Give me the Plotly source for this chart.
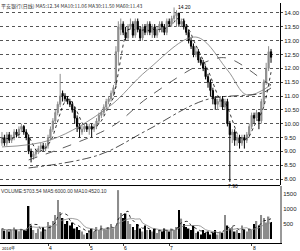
import plotly.graph_objects as go
import pandas as pd

# ---------------- data ----------------
open_ = [9.3,9.5,9.3,9.6,9.4,9.5,9.7,9.6,9.8,9.9,
         9.7,9.5,9.0,8.8,8.9,9.0,9.1,9.2,9.1,9.2,
         9.5,9.8,10.1,10.4,10.7,11.1,11.0,10.9,10.8,10.7,
         10.5,10.2,9.9,9.7,9.8,9.9,9.8,9.9,9.8,9.9,
         10.1,10.3,10.4,10.6,10.8,10.9,11.1,11.4,12.6,13.4,
         13.6,13.3,13.1,13.5,13.6,13.2,13.7,13.4,13.1,13.5,
         13.3,13.6,13.3,13.5,13.2,13.4,13.6,13.5,13.3,13.7,
         13.6,13.8,13.9,14.0,13.6,13.7,13.5,13.3,13.0,12.8,
         12.5,12.6,12.3,12.2,12.0,11.7,11.5,11.2,10.9,10.7,
         10.8,10.9,10.6,10.8,10.0,9.6,9.7,9.4,9.5,9.3,
         9.5,9.4,9.6,9.9,10.3,10.2,10.4,10.1,10.8,11.5,
         12.0,12.6]
close = [9.5,9.3,9.6,9.4,9.5,9.7,9.6,9.8,9.9,9.7,
         9.5,9.0,8.8,8.9,9.0,9.1,9.2,9.1,9.2,9.5,
         9.8,10.1,10.4,10.7,11.0,11.0,10.9,10.8,10.7,10.5,
         10.2,9.9,9.8,9.8,9.9,9.8,9.9,9.8,9.9,10.1,
         10.3,10.4,10.6,10.8,10.9,11.1,11.3,12.6,13.5,13.6,
         13.3,13.1,13.5,13.6,13.2,13.7,13.4,13.1,13.5,13.3,
         13.6,13.3,13.5,13.2,13.4,13.6,13.5,13.3,13.7,13.6,
         13.8,13.9,14.0,13.6,13.7,13.5,13.3,13.0,12.8,12.5,
         12.6,12.3,12.2,12.0,11.7,11.5,11.2,10.9,10.7,10.8,
         10.9,10.6,10.8,10.0,9.6,9.7,9.4,9.5,9.3,9.5,
         9.4,9.6,9.9,10.3,10.2,10.4,10.1,10.8,11.5,12.0,
         12.6,12.4]
high = [9.7,9.6,9.7,9.7,9.6,9.8,9.8,9.9,10.0,9.95,
        9.8,9.6,9.1,9.0,9.1,9.2,9.3,9.3,9.3,9.6,
        9.9,10.2,10.5,10.8,11.8,11.2,11.1,11.0,10.9,10.8,
        10.6,10.3,10.0,9.95,10.0,10.0,10.0,10.0,10.0,10.2,
        10.4,10.5,10.7,10.9,11.0,11.2,11.4,12.8,13.7,13.8,
        13.7,13.5,13.6,13.8,13.7,13.8,13.8,13.5,13.6,13.6,
        13.7,13.7,13.6,13.6,13.5,13.7,13.7,13.6,13.8,13.8,
        13.9,14.2,14.1,14.0,13.8,13.8,13.6,13.4,13.1,12.9,
        12.8,12.7,12.4,12.3,12.1,11.8,11.6,11.3,11.0,10.9,
        11.0,11.0,10.9,10.9,10.1,9.8,9.8,9.6,9.6,9.6,
        9.6,9.7,10.0,10.4,10.4,10.5,10.4,10.9,11.6,12.2,
        12.8,12.7]
low = [9.2,9.2,9.2,9.3,9.3,9.4,9.5,9.5,9.7,9.6,
       9.4,8.9,8.6,8.7,8.8,8.9,9.0,9.0,9.0,9.1,
       9.4,9.7,10.0,10.3,10.6,10.8,10.8,10.7,10.6,10.4,
       10.0,9.7,9.5,9.6,9.7,9.7,9.6,9.5,9.7,9.8,
       10.0,10.2,10.3,10.5,10.7,10.8,11.0,11.3,12.1,13.2,
       13.2,13.0,13.0,13.4,13.1,13.1,13.3,13.0,13.0,13.2,
       13.2,13.2,13.1,13.1,13.1,13.3,13.3,13.2,13.2,13.5,
       13.5,13.7,13.5,13.5,13.5,13.4,13.2,12.9,12.7,12.4,
       12.4,12.2,12.1,11.9,11.6,11.3,11.0,10.7,10.5,10.5,
       10.6,10.5,10.5,9.9,7.9,9.3,9.2,9.2,9.1,9.2,
       9.1,9.3,9.5,9.8,10.0,10.1,9.8,10.0,10.6,11.4,
       11.9,12.2]
volume = [350,280,300,250,320,380,300,260,340,300,280,
          1100,
          450,300,200,350,250,400,300,
          570,450,600,
          800,1300,900,700,500,
          600,450,550,350,400,300,
          250,150,200,300,
          350,250,400,300,450,350,300,400,500,350,450,
          1630,870,
          700,850,600,500,
          400,300,500,350,250,450,300,
          300,250,350,200,300,250,350,
          300,250,350,300,400,
          970,680,
          500,400,350,300,450,
          200,250,150,300,200,250,150,200,300,150,250,200,
          800,
          450,350,400,250,300,200,450,
          300,250,350,300,
          500,600,450,800,700,550,
          750,570]

# slower moving averages (bar index, value)
ma20_idx = [0, 20, 44, 60, 80, 93, 101, 111]
ma20_val = [9.16, 9.41, 10.6, 11.94, 13.13, 11.94, 11.04, 11.4]
ma30_idx = [11, 45, 60, 84, 93, 109, 111]
ma30_val = [8.69, 9.88, 10.93, 12.23, 12.37, 11.5, 11.4]
ma60_idx = [11, 40, 60, 84, 107, 111]
ma60_val = [8.4, 8.87, 9.77, 10.86, 11.1, 11.29]

price_ticks = [14.0, 13.5, 13.0, 12.5, 12.0, 11.5, 11.0, 10.5, 10.0, 9.5, 9.0, 8.5, 8.0]
vol_ticks = [1500, 1000, 500]
date_labels = ["4", "5", "6", "7", "8"]
date_idx = [19, 36, 50, 69, 103]

title_text = "平安银行(日线) MA5:12.34 MA10:11.06 MA30:11.50 MA60:11.43"
vol_title = "VOLUME:5703.54 MA5:6000.00 MA10:4520.10"

# ---------------- figure ----------------
x = list(range(len(close)))
fig = go.Figure()
UP = "#8c8c8c"
DN = "#000000"

fig.add_trace(go.Candlestick(
    x=x, open=open_, high=high, low=low, close=close,
    increasing=dict(line=dict(color=UP, width=1), fillcolor=UP),
    decreasing=dict(line=dict(color=DN, width=1), fillcolor=DN),
    whiskerwidth=0, xaxis="x", yaxis="y", showlegend=False))

ma5 = pd.Series(close).rolling(5, min_periods=1).mean()
fig.add_trace(go.Scatter(x=x, y=ma5, mode="lines",
                         line=dict(color="#000", width=0.8, dash="dot"),
                         xaxis="x", yaxis="y", showlegend=False))
fig.add_trace(go.Scatter(x=ma20_idx, y=ma20_val, mode="lines", line_shape="spline",
                         line=dict(color="#777", width=0.8),
                         xaxis="x", yaxis="y", showlegend=False))
fig.add_trace(go.Scatter(x=ma30_idx, y=ma30_val, mode="lines", line_shape="spline",
                         line=dict(color="#333", width=0.8, dash="dash"),
                         xaxis="x", yaxis="y", showlegend=False))
fig.add_trace(go.Scatter(x=ma60_idx, y=ma60_val, mode="lines", line_shape="spline",
                         line=dict(color="#222", width=0.8, dash="dashdot"),
                         xaxis="x", yaxis="y", showlegend=False))

vcol = [UP if c >= o else DN for o, c in zip(open_, close)]
fig.add_trace(go.Bar(x=x, y=volume, marker=dict(color=vcol, line=dict(width=0)),
                     width=0.6, xaxis="x2", yaxis="y2", showlegend=False))
vma5 = pd.Series(volume).rolling(5, min_periods=1).mean()
vma10 = pd.Series(volume).rolling(10, min_periods=1).mean()
fig.add_trace(go.Scatter(x=x, y=vma5, mode="lines",
                         line=dict(color="#000", width=0.8, dash="dot"),
                         xaxis="x2", yaxis="y2", showlegend=False))
fig.add_trace(go.Scatter(x=x, y=vma10, mode="lines",
                         line=dict(color="#888", width=0.8),
                         xaxis="x2", yaxis="y2", showlegend=False))

xr = [-0.82, 114.7]
tickfont = dict(family="Liberation Sans", size=6, color="#222")
fig.update_layout(
    width=300, height=251,
    margin=dict(l=0, r=17, t=3, b=8),
    paper_bgcolor="white", plot_bgcolor="white",
    xaxis=dict(domain=[0, 1], range=xr, showticklabels=False, showgrid=False,
               zeroline=False, rangeslider=dict(visible=False), anchor="y"),
    yaxis=dict(domain=[0.2417, 1], range=[7.784, 14.361], side="right",
               tickvals=price_ticks, ticktext=[f"{v:.2f}" for v in price_ticks],
               tickfont=tickfont, showgrid=True, gridcolor="#555", griddash="dot",
               gridwidth=0.6, zeroline=False, showline=True, linecolor="#000",
               linewidth=1, ticks="outside", ticklen=2, mirror=False),
    xaxis2=dict(domain=[0, 1], range=xr, showticklabels=False, showgrid=False,
                zeroline=False, anchor="y2", showline=True, linecolor="#000",
                linewidth=1, tickvals=date_idx, ticks="outside", ticklen=2),
    yaxis2=dict(domain=[0, 0.2375], range=[-133, 1767], side="right",
                tickvals=vol_ticks, tickfont=tickfont, showgrid=False,
                zeroline=False, showline=True, linecolor="#999", linewidth=2,
                ticks="", anchor="x2"),
    font=dict(family="Liberation Sans", size=6, color="#222"),
    bargap=0.3,
)

# panel separator and title texts
fig.add_shape(type="line", xref="paper", yref="paper", x0=0, x1=1,
              y0=0.2395, y1=0.2395, line=dict(color="#000", width=1))
fig.add_annotation(xref="paper", yref="paper", x=0, y=1.01, xanchor="left",
                   yanchor="top", text=title_text, showarrow=False, borderpad=0,
                   font=dict(family="Noto Sans CJK SC", size=5, color="#333"))
fig.add_annotation(xref="paper", yref="paper", x=0, y=0.232, xanchor="left",
                   yanchor="top", text=vol_title, showarrow=False, borderpad=0,
                   font=dict(family="Liberation Sans", size=5, color="#333"))
for lab, i in zip(date_labels, date_idx):
    fig.add_annotation(xref="x2", yref="paper", x=i, y=0, yshift=-1, xanchor="left",
                       yanchor="top", text=lab, showarrow=False, borderpad=0,
                       font=dict(family="Liberation Sans", size=5, color="#000"))
fig.add_annotation(xref="paper", yref="paper", x=0.005, y=0, yshift=-1, xanchor="left",
                   yanchor="top", text="2014年", showarrow=False, borderpad=0,
                   font=dict(family="Noto Sans CJK SC", size=4, color="#000"))
# high / low markers
hi_i = high.index(max(high))
lo_i = low.index(min(low))
fig.add_annotation(x=hi_i, y=max(high), xref="x", yref="y", text=f"{max(high):.2f}",
                   showarrow=False, xanchor="left", yanchor="middle", xshift=3,
                   borderpad=0,
                   font=dict(family="Liberation Sans", size=5, color="#000"))
fig.add_annotation(x=lo_i, y=min(low), xref="x", yref="y", text=f"{min(low):.2f}",
                   showarrow=False, xanchor="left", yanchor="top", xshift=-3,
                   borderpad=0,
                   font=dict(family="Liberation Sans", size=5, color="#000"))

fig.write_html("out.html")
